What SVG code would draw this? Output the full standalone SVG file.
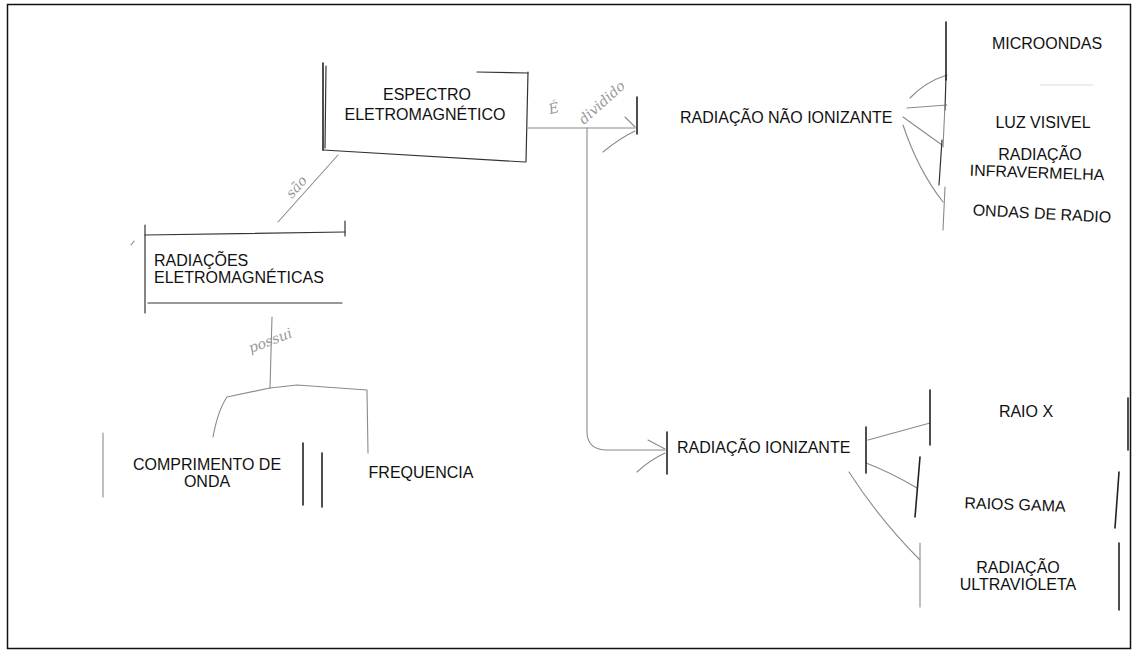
<svg xmlns="http://www.w3.org/2000/svg" width="1132" height="650" viewBox="0 0 1132 650">
<style>
.t{font-family:"Liberation Sans",Arial,sans-serif;font-size:16px;fill:#111}
.c{text-anchor:middle}
.b{stroke:#333;stroke-width:1.2;fill:none;stroke-linecap:round}
.k{stroke:#222;stroke-width:1.6;fill:none;stroke-linecap:round}
.l{stroke:#8a8a8a;stroke-width:1.1;fill:none;stroke-linecap:round;stroke-linejoin:round}
.f{stroke:#dcdcdc;stroke-width:1.1;fill:none}
.h{font-family:"DejaVu Serif","Liberation Serif",serif;font-style:italic;font-size:14px;fill:#9a9a9a}
</style>
<rect x="0" y="0" width="1132" height="650" fill="#ffffff"/>
<rect x="7.5" y="4.5" width="1123" height="644" fill="none" stroke="#111" stroke-width="1.5"/>

<g id="connectors">
  <line class="l" x1="338" y1="155" x2="278" y2="222"/>
  <path class="l" d="M272 317 L270 388"/>
  <path class="l" d="M213 437 Q218 410 227 397 L270 388 L297 385 L367 390 L368 453"/>
  <path class="l" d="M528 128 L635 128"/>
  <path class="l" d="M625 117 L635 127"/>
  <path class="l" d="M603 152 Q620 138 635 131"/>
  <path class="l" d="M587 128 L587 433 Q588 449 605 450 L665 450"/>
  <path class="l" d="M648 440 L665 449"/>
  <path class="l" d="M637 472 Q650 460 665 453"/>
  <path class="l" d="M910 98 Q925 82 947 75"/>
  <path class="l" d="M907 108 L947 105"/>
  <path class="l" d="M903 117 L942 145"/>
  <path class="l" d="M903 125 Q918 170 943 202"/>
  <line class="f" x1="1040" y1="85" x2="1093" y2="85"/>
  <path class="l" d="M868 440 L930 423"/>
  <path class="l" d="M866 463 Q890 472 917 488"/>
  <path class="l" d="M849 472 Q880 520 920 560"/>
</g>

<g id="espectro">
  <line class="k" x1="323" y1="63" x2="323" y2="150"/>
  <line class="b" x1="326" y1="66" x2="325" y2="148"/>
  <line class="b" x1="477" y1="72" x2="528" y2="73"/>
  <line class="b" x1="528" y1="72" x2="526" y2="162"/>
  <line class="b" x1="323" y1="150" x2="525" y2="162"/>
  <text class="t c" x="427" y="100">ESPECTRO</text>
  <text class="t c" x="425" y="120">ELETROMAGNÉTICO</text>
</g>

<g id="radiacoes">
  <line class="b" x1="145" y1="225" x2="145" y2="313"/>
  <line class="b" x1="145" y1="235" x2="345" y2="232"/>
  <line class="b" x1="345" y1="221" x2="345" y2="236"/>
  <line class="b" x1="148" y1="303" x2="342" y2="303"/>
  <line class="l" x1="131" y1="245" x2="134" y2="241"/>
  <text class="t" x="154" y="266">RADIAÇÕES</text>
  <text class="t" x="154" y="283">ELETROMAGNÉTICAS</text>
</g>

<g id="comprimento">
  <line class="l" x1="103" y1="433" x2="103" y2="497"/>
  <line class="k" x1="303" y1="443" x2="303" y2="505"/>
  <text class="t c" x="207" y="470">COMPRIMENTO DE</text>
  <text class="t c" x="207" y="487">ONDA</text>
</g>

<g id="frequencia">
  <line class="k" x1="322" y1="453" x2="322" y2="507"/>
  <text class="t c" x="421" y="478">FREQUENCIA</text>
</g>

<g id="nao-ionizante">
  <line class="k" x1="637" y1="97" x2="637" y2="134"/>
  <text class="t" x="680" y="123">RADIAÇÃO NÃO IONIZANTE</text>
</g>

<g id="microondas">
  <line class="k" x1="946" y1="22" x2="946" y2="80"/>
  <line class="b" x1="946" y1="75" x2="945" y2="110"/>
  <text class="t c" x="1047" y="49">MICROONDAS</text>
</g>
<g id="luz-visivel">
  <line class="l" x1="945" y1="105" x2="943" y2="147"/>
  <text class="t c" x="1043" y="128">LUZ VISIVEL</text>
</g>
<g id="infravermelha">
  <line class="b" x1="942" y1="140" x2="939" y2="185"/>
  <text class="t c" x="1040" y="160">RADIAÇÃO</text>
  <text class="t c" x="1037" y="178" transform="rotate(2 1037 173)">INFRAVERMELHA</text>
</g>
<g id="ondas-radio">
  <line class="l" x1="945" y1="187" x2="943" y2="230"/>
  <text class="t c" x="1042" y="219" transform="rotate(3 1042 213)">ONDAS DE RADIO</text>
</g>

<g id="ionizante">
  <line class="k" x1="667" y1="432" x2="667" y2="474"/>
  <line class="k" x1="866" y1="427" x2="866" y2="473"/>
  <text class="t" x="677" y="453">RADIAÇÃO IONIZANTE</text>
</g>

<g id="raio-x">
  <line class="k" x1="930" y1="390" x2="930" y2="445"/>
  <line class="k" x1="1128" y1="398" x2="1128" y2="450"/>
  <text class="t c" x="1026" y="417">RAIO X</text>
</g>
<g id="raios-gama">
  <line class="k" x1="920" y1="457" x2="915" y2="517"/>
  <line class="k" x1="1119" y1="472" x2="1115" y2="528"/>
  <text class="t c" x="1015" y="510" transform="rotate(2 1015 505)">RAIOS GAMA</text>
</g>
<g id="ultravioleta">
  <line class="l" x1="920" y1="543" x2="920" y2="607"/>
  <line class="k" x1="1119" y1="543" x2="1119" y2="610"/>
  <text class="t c" x="1018" y="573">RADIAÇÃO</text>
  <text class="t c" x="1018" y="590">ULTRAVIOLETA</text>
</g>

<g id="labels">
  <text class="h" x="300" y="190" text-anchor="middle" transform="rotate(-48 300 190)">são</text>
  <text class="h" x="272" y="345" text-anchor="middle" transform="rotate(-21 272 345)">possui</text>
  <text class="h" x="555" y="113" text-anchor="middle" transform="rotate(-15 555 113)">É</text>
  <text class="h" x="605" y="106" text-anchor="middle" transform="rotate(-42 605 106)">dividido</text>
</g>
</svg>
